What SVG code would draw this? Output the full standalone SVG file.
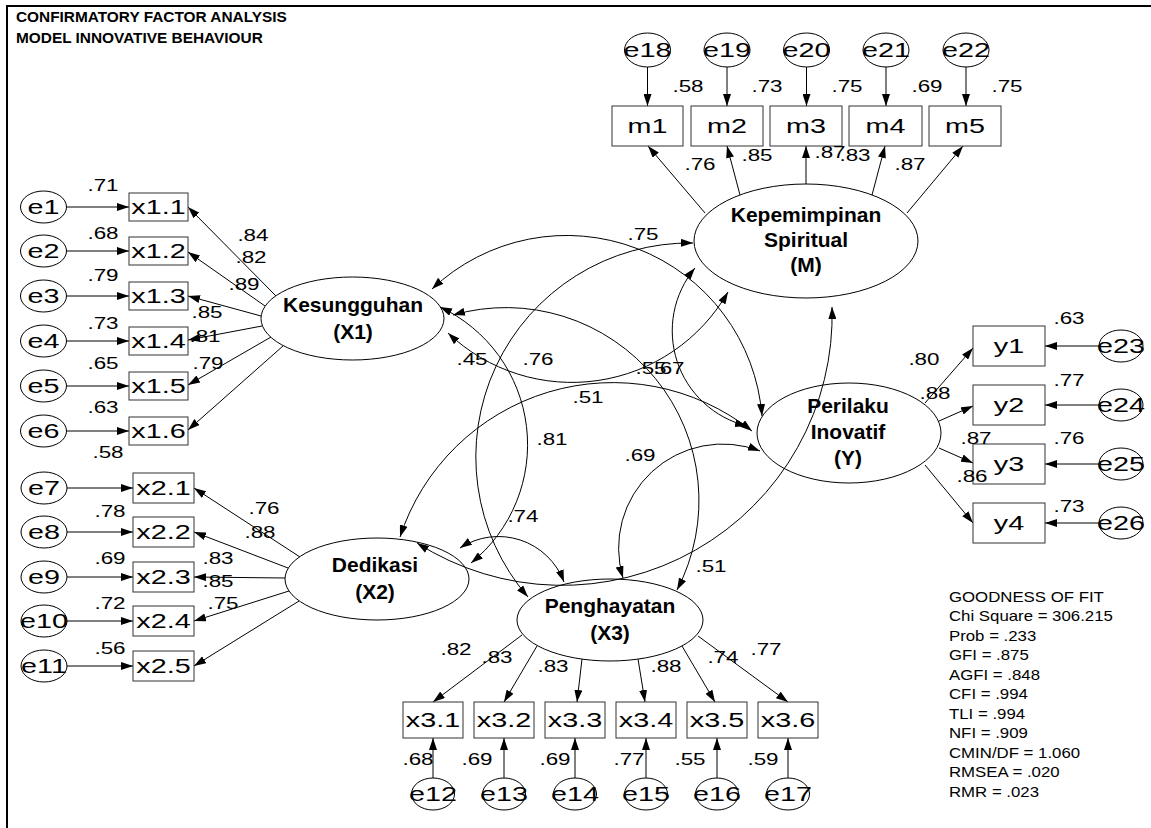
<svg xmlns="http://www.w3.org/2000/svg" width="1151" height="828" viewBox="0 0 1151 828">
  <style>
    text { fill: #000; font-family: "Liberation Sans", Arial, sans-serif; }
    .n { font-size: 16px; text-anchor: middle; transform-box: fill-box; transform-origin: center; transform: scaleX(1.4); }
    .o { font-size: 21px; text-anchor: middle; transform-box: fill-box; transform-origin: center; transform: scaleX(1.37); }
    .lat { font-size: 21px; font-weight: bold; text-anchor: middle; }
    .g { font-size: 14px; transform-box: fill-box; transform-origin: left center; transform: scaleX(1.2); }
    .t { font-size: 14px; font-weight: bold; transform-box: fill-box; transform-origin: left center; transform: scaleX(1.1); }
    .box { fill: none; stroke: #333; stroke-width: 1; }
    .err, .lv { fill: none; stroke: #000; stroke-width: 1; }
    .ln { fill: none; stroke: #000; stroke-width: 1; marker-end: url(#ah); }
    .cv { fill: none; stroke: #000; stroke-width: 1; marker-start: url(#ah); marker-end: url(#ah); }
  </style>
  <defs>
    <marker id="ah" viewBox="0 0 12 8" refX="12" refY="4" markerWidth="12" markerHeight="8" markerUnits="userSpaceOnUse" orient="auto-start-reverse">
      <path d="M0,0 L12,4 L0,8 z" fill="#000"/>
    </marker>
  </defs>
  <rect width="1151" height="828" fill="#fff"/>

  <!-- frame -->
  <path d="M7,829 V6 H1152" fill="none" stroke="#000" stroke-width="2"/>

  <!-- title -->
  <g id="title">
    <text class="t" x="16" y="22">CONFIRMATORY FACTOR ANALYSIS</text>
    <text class="t" x="16" y="43">MODEL INNOVATIVE BEHAVIOUR</text>
  </g>

  <!-- connectors -->
  <g id="connectors">
    <!-- error terms to indicators -->
    <line class="ln" x1="66.5" y1="207" x2="129" y2="207"/>
    <line class="ln" x1="66.5" y1="251" x2="129" y2="251"/>
    <line class="ln" x1="66.5" y1="296" x2="129" y2="296"/>
    <line class="ln" x1="66.5" y1="341" x2="129" y2="341"/>
    <line class="ln" x1="66.5" y1="386" x2="129" y2="386"/>
    <line class="ln" x1="66.5" y1="431" x2="129" y2="431"/>
    <line class="ln" x1="67" y1="488" x2="133" y2="488"/>
    <line class="ln" x1="67" y1="532" x2="133" y2="532"/>
    <line class="ln" x1="67" y1="577" x2="133" y2="577"/>
    <line class="ln" x1="67" y1="621" x2="133" y2="621"/>
    <line class="ln" x1="67" y1="666" x2="133" y2="666"/>
    <line class="ln" x1="433" y1="778" x2="433" y2="738"/>
    <line class="ln" x1="504" y1="778" x2="504" y2="738"/>
    <line class="ln" x1="575" y1="778" x2="575" y2="738"/>
    <line class="ln" x1="646" y1="778" x2="646" y2="738"/>
    <line class="ln" x1="717" y1="778" x2="717" y2="738"/>
    <line class="ln" x1="788" y1="778" x2="788" y2="738"/>
    <line class="ln" x1="647.5" y1="67" x2="647.5" y2="106"/>
    <line class="ln" x1="727" y1="67" x2="727" y2="106"/>
    <line class="ln" x1="806.5" y1="67" x2="806.5" y2="106"/>
    <line class="ln" x1="886" y1="67" x2="886" y2="106"/>
    <line class="ln" x1="966" y1="67" x2="966" y2="106"/>
    <line class="ln" x1="1099" y1="346" x2="1045" y2="346"/>
    <line class="ln" x1="1099" y1="405" x2="1045" y2="405"/>
    <line class="ln" x1="1099" y1="464" x2="1045" y2="464"/>
    <line class="ln" x1="1099" y1="523" x2="1045" y2="523"/>

    <!-- loadings X1 -->
    <line class="ln" x1="276" y1="296" x2="188" y2="207"/>
    <line class="ln" x1="265" y1="306" x2="188" y2="252"/>
    <line class="ln" x1="261" y1="316" x2="188" y2="296"/>
    <line class="ln" x1="262" y1="326" x2="188" y2="340"/>
    <line class="ln" x1="271" y1="337" x2="188" y2="385"/>
    <line class="ln" x1="283" y1="346" x2="188" y2="430"/>
    <!-- loadings X2 -->
    <line class="ln" x1="300" y1="557" x2="194" y2="488"/>
    <line class="ln" x1="288" y1="568" x2="194" y2="532"/>
    <line class="ln" x1="285" y1="578" x2="194" y2="577"/>
    <line class="ln" x1="289" y1="591" x2="194" y2="621"/>
    <line class="ln" x1="299" y1="601" x2="194" y2="666"/>
    <!-- loadings X3 -->
    <line class="ln" x1="522" y1="635" x2="433" y2="702"/>
    <line class="ln" x1="537" y1="646" x2="504" y2="702"/>
    <line class="ln" x1="582" y1="659" x2="577" y2="702"/>
    <line class="ln" x1="638" y1="659" x2="645" y2="702"/>
    <line class="ln" x1="682" y1="646" x2="715" y2="702"/>
    <line class="ln" x1="698" y1="636" x2="788" y2="702"/>
    <!-- loadings M -->
    <line class="ln" x1="705" y1="213" x2="648" y2="146"/>
    <line class="ln" x1="740" y1="195" x2="727" y2="146"/>
    <line class="ln" x1="806" y1="184" x2="806" y2="146"/>
    <line class="ln" x1="872" y1="195" x2="885" y2="146"/>
    <line class="ln" x1="907" y1="213" x2="963" y2="146"/>
    <!-- loadings Y -->
    <line class="ln" x1="925" y1="403" x2="973" y2="348"/>
    <line class="ln" x1="939" y1="421" x2="973" y2="406"/>
    <line class="ln" x1="939" y1="448" x2="973" y2="463"/>
    <line class="ln" x1="925" y1="465" x2="973" y2="523"/>

    <!-- covariances -->
    <path class="cv" d="M432,289 A196,196 0 0,1 762,416"/>
    <path class="cv" d="M693,243 A214,214 0 0,0 528,597"/>
    <path class="cv" d="M453,315 A193,193 0 0,1 677,590"/>
    <path class="cv" d="M440,307 A152,152 0 0,1 471,563"/>
    <path class="cv" d="M448,333 A180,180 0 0,0 728,292"/>
    <path class="cv" d="M695,268 A98,98 0 0,0 747,426"/>
    <path class="cv" d="M400,537 A224,224 0 0,1 752,431"/>
    <path class="cv" d="M832,307 A270,270 0 0,1 417,543"/>
    <path class="cv" d="M460,548 A70,70 0 0,1 564,582"/>
    <path class="cv" d="M623,578 A104,104 0 0,1 760,451"/>
  </g>

  <!-- Kesungguhan block -->
  <g id="e1"><ellipse class="err" cx="43.5" cy="207" rx="23" ry="16"/><text class="o" x="43.5" y="214.5">e1</text></g>
  <g id="e2"><ellipse class="err" cx="43.5" cy="251" rx="23" ry="16"/><text class="o" x="43.5" y="258.5">e2</text></g>
  <g id="e3"><ellipse class="err" cx="43.5" cy="296" rx="23" ry="16"/><text class="o" x="43.5" y="303.5">e3</text></g>
  <g id="e4"><ellipse class="err" cx="43.5" cy="341" rx="23" ry="16"/><text class="o" x="43.5" y="348.5">e4</text></g>
  <g id="e5"><ellipse class="err" cx="43.5" cy="386" rx="23" ry="16"/><text class="o" x="43.5" y="393.5">e5</text></g>
  <g id="e6"><ellipse class="err" cx="43.5" cy="431" rx="23" ry="16"/><text class="o" x="43.5" y="438.5">e6</text></g>
  <g id="x1_1"><rect class="box" x="129" y="193" width="59" height="28"/><text class="o" x="158.5" y="214.5">x1.1</text></g>
  <g id="x1_2"><rect class="box" x="129" y="237" width="59" height="28"/><text class="o" x="158.5" y="258.5">x1.2</text></g>
  <g id="x1_3"><rect class="box" x="129" y="282" width="59" height="28"/><text class="o" x="158.5" y="303.5">x1.3</text></g>
  <g id="x1_4"><rect class="box" x="129" y="327" width="59" height="28"/><text class="o" x="158.5" y="348.5">x1.4</text></g>
  <g id="x1_5"><rect class="box" x="129" y="372" width="59" height="28"/><text class="o" x="158.5" y="393.5">x1.5</text></g>
  <g id="x1_6"><rect class="box" x="129" y="417" width="59" height="28"/><text class="o" x="158.5" y="438.5">x1.6</text></g>
  <g id="X1"><ellipse class="lv" cx="352.5" cy="318.5" rx="91.5" ry="41.5"/><text class="lat" x="353" y="312">Kesungguhan</text><text class="lat" x="353" y="339">(X1)</text></g>

  <!-- Dedikasi block -->
  <g id="e7"><ellipse class="err" cx="44" cy="488" rx="23" ry="16"/><text class="o" x="44" y="495.5">e7</text></g>
  <g id="e8"><ellipse class="err" cx="44" cy="532" rx="23" ry="16"/><text class="o" x="44" y="539.5">e8</text></g>
  <g id="e9"><ellipse class="err" cx="44" cy="577" rx="23" ry="16"/><text class="o" x="44" y="584.5">e9</text></g>
  <g id="e10"><ellipse class="err" cx="44" cy="621" rx="23" ry="16"/><text class="o" x="44" y="628.5">e10</text></g>
  <g id="e11"><ellipse class="err" cx="44" cy="666" rx="23" ry="16"/><text class="o" x="44" y="673.5">e11</text></g>
  <g id="x2_1"><rect class="box" x="133" y="473" width="61" height="30"/><text class="o" x="163.5" y="495.5">x2.1</text></g>
  <g id="x2_2"><rect class="box" x="133" y="517" width="61" height="30"/><text class="o" x="163.5" y="539.5">x2.2</text></g>
  <g id="x2_3"><rect class="box" x="133" y="562" width="61" height="30"/><text class="o" x="163.5" y="584.5">x2.3</text></g>
  <g id="x2_4"><rect class="box" x="133" y="606" width="61" height="30"/><text class="o" x="163.5" y="628.5">x2.4</text></g>
  <g id="x2_5"><rect class="box" x="133" y="651" width="61" height="30"/><text class="o" x="163.5" y="673.5">x2.5</text></g>
  <g id="X2"><ellipse class="lv" cx="377" cy="579" rx="92" ry="41"/><text class="lat" x="375" y="572">Dedikasi</text><text class="lat" x="375" y="599">(X2)</text></g>

  <!-- Penghayatan block -->
  <g id="X3"><ellipse class="lv" cx="610" cy="620" rx="93" ry="41"/><text class="lat" x="610" y="613">Penghayatan</text><text class="lat" x="610" y="640">(X3)</text></g>
  <g id="x3_1"><rect class="box" x="403" y="702" width="60" height="36"/><text class="o" x="433" y="727.5">x3.1</text></g>
  <g id="x3_2"><rect class="box" x="474" y="702" width="60" height="36"/><text class="o" x="504" y="727.5">x3.2</text></g>
  <g id="x3_3"><rect class="box" x="545" y="702" width="60" height="36"/><text class="o" x="575" y="727.5">x3.3</text></g>
  <g id="x3_4"><rect class="box" x="616" y="702" width="60" height="36"/><text class="o" x="646" y="727.5">x3.4</text></g>
  <g id="x3_5"><rect class="box" x="687" y="702" width="60" height="36"/><text class="o" x="717" y="727.5">x3.5</text></g>
  <g id="x3_6"><rect class="box" x="758" y="702" width="60" height="36"/><text class="o" x="788" y="727.5">x3.6</text></g>
  <g id="e12"><ellipse class="err" cx="433" cy="794" rx="21.5" ry="16"/><text class="o" x="433" y="801.5">e12</text></g>
  <g id="e13"><ellipse class="err" cx="504" cy="794" rx="21.5" ry="16"/><text class="o" x="504" y="801.5">e13</text></g>
  <g id="e14"><ellipse class="err" cx="575" cy="794" rx="21.5" ry="16"/><text class="o" x="575" y="801.5">e14</text></g>
  <g id="e15"><ellipse class="err" cx="646" cy="794" rx="21.5" ry="16"/><text class="o" x="646" y="801.5">e15</text></g>
  <g id="e16"><ellipse class="err" cx="717" cy="794" rx="21.5" ry="16"/><text class="o" x="717" y="801.5">e16</text></g>
  <g id="e17"><ellipse class="err" cx="788" cy="794" rx="21.5" ry="16"/><text class="o" x="788" y="801.5">e17</text></g>

  <!-- Kepemimpinan Spiritual block -->
  <g id="e18"><ellipse class="err" cx="647.5" cy="50" rx="23" ry="17"/><text class="o" x="647.5" y="57.5">e18</text></g>
  <g id="e19"><ellipse class="err" cx="727" cy="50" rx="23" ry="17"/><text class="o" x="727" y="57.5">e19</text></g>
  <g id="e20"><ellipse class="err" cx="806.5" cy="50" rx="23" ry="17"/><text class="o" x="806.5" y="57.5">e20</text></g>
  <g id="e21"><ellipse class="err" cx="886" cy="50" rx="23" ry="17"/><text class="o" x="886" y="57.5">e21</text></g>
  <g id="e22"><ellipse class="err" cx="966" cy="50" rx="23" ry="17"/><text class="o" x="966" y="57.5">e22</text></g>
  <g id="m1"><rect class="box" x="612" y="106" width="71" height="40"/><text class="o" x="647.5" y="133.5">m1</text></g>
  <g id="m2"><rect class="box" x="691" y="106" width="72" height="40"/><text class="o" x="727" y="133.5">m2</text></g>
  <g id="m3"><rect class="box" x="770" y="106" width="72" height="40"/><text class="o" x="806" y="133.5">m3</text></g>
  <g id="m4"><rect class="box" x="849" y="106" width="73" height="40"/><text class="o" x="885.5" y="133.5">m4</text></g>
  <g id="m5"><rect class="box" x="929" y="106" width="72" height="40"/><text class="o" x="965" y="133.5">m5</text></g>
  <g id="M"><ellipse class="lv" cx="806" cy="241" rx="112" ry="57"/><text class="lat" x="806" y="222">Kepemimpinan</text><text class="lat" x="806" y="247">Spiritual</text><text class="lat" x="806" y="272">(M)</text></g>

  <!-- Perilaku Inovatif block -->
  <g id="Y"><ellipse class="lv" cx="849" cy="433" rx="92" ry="50"/><text class="lat" x="848" y="413">Perilaku</text><text class="lat" x="848" y="439">Inovatif</text><text class="lat" x="848" y="465">(Y)</text></g>
  <g id="y1"><rect class="box" x="973" y="326" width="72" height="40"/><text class="o" x="1009" y="353.5">y1</text></g>
  <g id="y2"><rect class="box" x="973" y="385" width="72" height="40"/><text class="o" x="1009" y="412.5">y2</text></g>
  <g id="y3"><rect class="box" x="973" y="444" width="72" height="40"/><text class="o" x="1009" y="471.5">y3</text></g>
  <g id="y4"><rect class="box" x="973" y="503" width="72" height="40"/><text class="o" x="1009" y="530.5">y4</text></g>
  <g id="e23"><ellipse class="err" cx="1121" cy="346" rx="22" ry="16"/><text class="o" x="1121" y="353.5">e23</text></g>
  <g id="e24"><ellipse class="err" cx="1121" cy="405" rx="22" ry="16"/><text class="o" x="1121" y="412.5">e24</text></g>
  <g id="e25"><ellipse class="err" cx="1121" cy="464" rx="22" ry="16"/><text class="o" x="1121" y="471.5">e25</text></g>
  <g id="e26"><ellipse class="err" cx="1121" cy="523" rx="22" ry="16"/><text class="o" x="1121" y="530.5">e26</text></g>

  <!-- estimates -->
  <g id="estimates">
    <!-- squared multiple correlations -->
    <text class="n" x="103" y="191">.71</text>
    <text class="n" x="103" y="239">.68</text>
    <text class="n" x="103" y="281">.79</text>
    <text class="n" x="103" y="329">.73</text>
    <text class="n" x="103" y="369">.65</text>
    <text class="n" x="103" y="413">.63</text>
    <text class="n" x="108" y="458">.58</text>
    <text class="n" x="110" y="517">.78</text>
    <text class="n" x="110" y="564">.69</text>
    <text class="n" x="110" y="609">.72</text>
    <text class="n" x="110" y="654">.56</text>
    <text class="n" x="418" y="765">.68</text>
    <text class="n" x="477" y="765">.69</text>
    <text class="n" x="555" y="765">.69</text>
    <text class="n" x="629" y="765">.77</text>
    <text class="n" x="690" y="765">.55</text>
    <text class="n" x="763" y="765">.59</text>
    <text class="n" x="688" y="92">.58</text>
    <text class="n" x="767" y="92">.73</text>
    <text class="n" x="847" y="92">.75</text>
    <text class="n" x="927" y="92">.69</text>
    <text class="n" x="1007" y="92">.75</text>
    <text class="n" x="1069" y="324">.63</text>
    <text class="n" x="1069" y="386">.77</text>
    <text class="n" x="1069" y="444">.76</text>
    <text class="n" x="1069" y="512">.73</text>
    <!-- loadings -->
    <text class="n" x="253" y="241">.84</text>
    <text class="n" x="251" y="263">.82</text>
    <text class="n" x="244" y="290">.89</text>
    <text class="n" x="207" y="318">.85</text>
    <text class="n" x="205" y="342">.81</text>
    <text class="n" x="208" y="369">.79</text>
    <text class="n" x="264" y="514">.76</text>
    <text class="n" x="260" y="538">.88</text>
    <text class="n" x="218" y="564">.83</text>
    <text class="n" x="218" y="587">.85</text>
    <text class="n" x="223" y="609">.75</text>
    <text class="n" x="456" y="655">.82</text>
    <text class="n" x="497" y="663">.83</text>
    <text class="n" x="553" y="672">.83</text>
    <text class="n" x="666" y="672">.88</text>
    <text class="n" x="723" y="663">.74</text>
    <text class="n" x="766" y="655">.77</text>
    <text class="n" x="700" y="170">.76</text>
    <text class="n" x="757" y="161">.85</text>
    <text class="n" x="830" y="158">.87</text>
    <text class="n" x="855" y="161">.83</text>
    <text class="n" x="910" y="170">.87</text>
    <text class="n" x="924" y="365">.80</text>
    <text class="n" x="935" y="399">.88</text>
    <text class="n" x="976" y="444">.87</text>
    <text class="n" x="972" y="482">.86</text>
    <!-- correlations -->
    <text class="n" x="643" y="240">.75</text>
    <text class="n" x="472" y="365">.45</text>
    <text class="n" x="538" y="365">.76</text>
    <text class="n" x="651" y="374">.55</text>
    <text class="n" x="669" y="374">.67</text>
    <text class="n" x="588" y="403">.51</text>
    <text class="n" x="552" y="445">.81</text>
    <text class="n" x="640" y="461">.69</text>
    <text class="n" x="523" y="522">.74</text>
    <text class="n" x="711" y="572">.51</text>
  </g>

  <!-- fit summary -->
  <g id="fit">
    <text class="g" x="949" y="602">GOODNESS OF FIT</text>
    <text class="g" x="949" y="621.5">Chi Square = 306.215</text>
    <text class="g" x="949" y="641">Prob = .233</text>
    <text class="g" x="949" y="660.5">GFI = .875</text>
    <text class="g" x="949" y="680">AGFI = .848</text>
    <text class="g" x="949" y="699.5">CFI = .994</text>
    <text class="g" x="949" y="719">TLI = .994</text>
    <text class="g" x="949" y="738.5">NFI = .909</text>
    <text class="g" x="949" y="758">CMIN/DF = 1.060</text>
    <text class="g" x="949" y="777.5">RMSEA = .020</text>
    <text class="g" x="949" y="797">RMR = .023</text>
  </g>
</svg>
